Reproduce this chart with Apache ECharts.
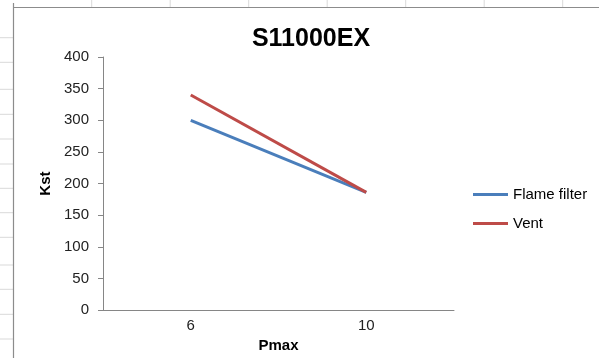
<!DOCTYPE html>
<html>
<head>
<meta charset="utf-8">
<script src="https://cdn.jsdelivr.net/npm/echarts@6/dist/echarts.min.js"></script>
<style>html,body{margin:0;padding:0;background:#fff}#c{width:599px;height:358px}</style>
</head>
<body>
<div id="c"></div>
<script>
const categories = ['6', '10'];
const flameFilter = [300, 186];
const vent = [340, 186];
const seriesNames = ['Flame filter', 'Vent'];
const titleText = 'S11000EX';

const colLines = [91.7, 170.2, 248.7, 327.2, 405.7, 484.2, 562.7];
const rowLines = [37.7, 62.3, 89.3, 114.3, 139, 164, 188.3, 212.7, 237.3, 265, 289.3, 314.3, 339];

const graphics = [];
colLines.forEach(x => graphics.push({type:'line', shape:{x1:x,y1:0,x2:x,y2:7}, style:{stroke:'#d9d9d9',lineWidth:1}, silent:true}));
rowLines.forEach(y => graphics.push({type:'line', shape:{x1:0,y1:y,x2:13,y2:y}, style:{stroke:'#d9d9d9',lineWidth:1}, silent:true}));
graphics.push({type:'line', shape:{x1:13.5,y1:3,x2:13.5,y2:358}, style:{stroke:'#8c8c8c',lineWidth:1.2}, silent:true});
graphics.push({type:'line', shape:{x1:13,y1:7.5,x2:599,y2:7.5}, style:{stroke:'#8c8c8c',lineWidth:1.2}, silent:true});

const chart = echarts.init(document.getElementById('c'), null, {renderer:'canvas'});
chart.setOption({
  animation: false,
  backgroundColor: '#fff',
  textStyle: {fontFamily: 'Liberation Sans'},
  title: {
    text: titleText, left: 306, textAlign: 'center', top: 22,
    textStyle: {fontSize: 25, fontWeight: 'bold', color: '#000', fontFamily: 'Liberation Sans'}
  },
  graphic: graphics,
  legend: {
    orient: 'vertical', left: 468, top: 182, itemWidth: 35, itemHeight: 3, itemGap: 14,
    icon: 'rect',
    textStyle: {fontSize: 15, color: '#000'},
    data: seriesNames
  },
  grid: {left: 103, right: 145, top: 57, bottom: 41},
  xAxis: {
    type: 'category', data: categories, boundaryGap: true,
    name: 'Pmax', nameLocation: 'middle', nameGap: 27,
    nameTextStyle: {fontSize: 15, fontWeight: 'bold', color: '#000'},
    axisLine: {lineStyle: {color: '#868686', width: 1}},
    axisTick: {show: false},
    axisLabel: {fontSize: 15, color: '#222', margin: 8}
  },
  yAxis: {
    type: 'value', min: 0, max: 400, interval: 50,
    name: 'Kst', nameLocation: 'middle', nameGap: 46, nameRotate: 90,
    nameTextStyle: {fontSize: 15, fontWeight: 'bold', color: '#000'},
    axisLine: {show: true, lineStyle: {color: '#868686', width: 1}},
    axisTick: {show: true, length: 5, lineStyle: {color: '#868686'}},
    axisLabel: {fontSize: 15, color: '#222', margin: 14},
    splitLine: {show: false}
  },
  series: [
    {name: seriesNames[0], type: 'line', data: flameFilter, showSymbol: false, symbol: 'none',
     lineStyle: {color: '#4a7ebb', width: 3}, itemStyle: {color: '#4a7ebb'}},
    {name: seriesNames[1], type: 'line', data: vent, showSymbol: false, symbol: 'none',
     lineStyle: {color: '#be4b48', width: 3}, itemStyle: {color: '#be4b48'}}
  ]
});
</script>
</body>
</html>
